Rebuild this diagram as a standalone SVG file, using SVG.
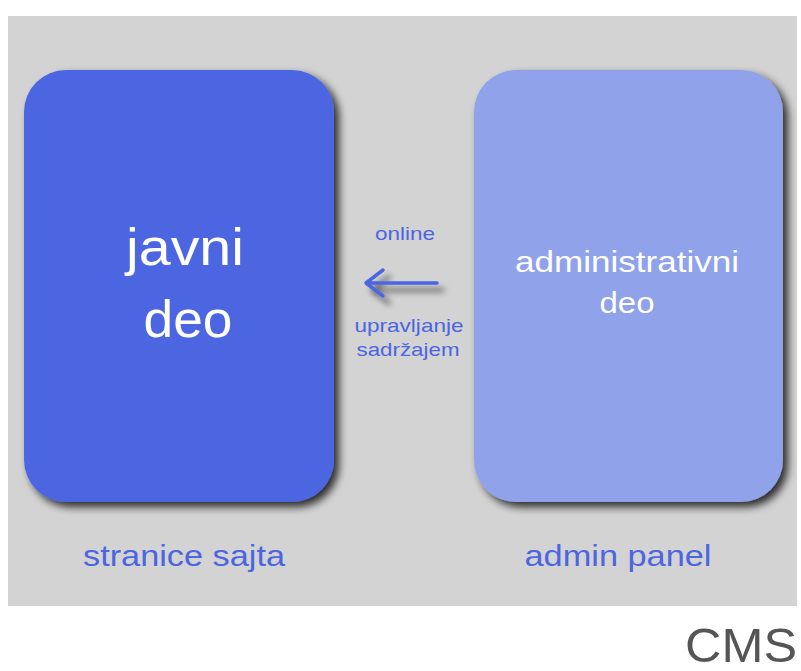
<svg xmlns="http://www.w3.org/2000/svg" width="801" height="671" viewBox="0 0 801 671">
<defs>
<filter id="sh" x="-20%" y="-20%" width="140%" height="140%">
<feGaussianBlur in="SourceAlpha" stdDeviation="4"/>
<feOffset dx="5" dy="5" result="b"/>
<feComponentTransfer><feFuncA type="linear" slope="0.8"/></feComponentTransfer>
<feMerge><feMergeNode/><feMergeNode in="SourceGraphic"/></feMerge>
</filter>
<filter id="ash" filterUnits="userSpaceOnUse" x="340" y="250" width="130" height="70">
<feGaussianBlur in="SourceAlpha" stdDeviation="3"/>
<feOffset dx="6" dy="7"/>
<feComponentTransfer><feFuncA type="linear" slope="0.6"/></feComponentTransfer>
<feMerge><feMergeNode/><feMergeNode in="SourceGraphic"/></feMerge>
</filter>
<style>
text{font-family:"Liberation Sans",Arial,sans-serif;}
.w{fill:#ffffff;text-anchor:middle;}
.b{fill:#4b66e0;text-anchor:middle;}
</style>
</defs>
<rect width="801" height="671" fill="#ffffff"/>
<rect x="8" y="16" width="789" height="590" fill="#d3d3d3"/>
<g id="javni">
<rect x="24" y="70" width="310" height="432" rx="42" fill="#4b66e0" filter="url(#sh)"/>
<text class="w" x="185" y="265" font-size="52" textLength="118" lengthAdjust="spacingAndGlyphs">javni</text>
<text class="w" x="188" y="337" font-size="52" textLength="89" lengthAdjust="spacingAndGlyphs">deo</text>
</g>
<g id="admin">
<rect x="474" y="70" width="309" height="432" rx="42" fill="#8fa2ea" filter="url(#sh)"/>
<text class="w" x="627" y="272" font-size="29" textLength="224" lengthAdjust="spacingAndGlyphs">administrativni</text>
<text class="w" x="627" y="313" font-size="29" textLength="55" lengthAdjust="spacingAndGlyphs">deo</text>
</g>
<g id="connectors">
<g filter="url(#ash)">
<path d="M437,283 L366,283 M383,270 L366,283 L383,296" fill="none" stroke="#4b66e0" stroke-width="3.5" stroke-linecap="round" stroke-linejoin="round"/>
</g>
<text class="b" x="405" y="240" font-size="19" textLength="60" lengthAdjust="spacingAndGlyphs">online</text>
<text class="b" x="409" y="332" font-size="19" textLength="109" lengthAdjust="spacingAndGlyphs">upravljanje</text>
<text class="b" x="408" y="356" font-size="19" textLength="103" lengthAdjust="spacingAndGlyphs">sadržajem</text>
</g>
<g id="labels">
<text class="b" x="184" y="566" font-size="30" textLength="202" lengthAdjust="spacingAndGlyphs">stranice sajta</text>
<text class="b" x="618" y="566" font-size="30" textLength="187" lengthAdjust="spacingAndGlyphs">admin panel</text>
<text x="741" y="662" font-size="48" fill="#555555" text-anchor="middle" textLength="112" lengthAdjust="spacingAndGlyphs">CMS</text>
</g>
</svg>
